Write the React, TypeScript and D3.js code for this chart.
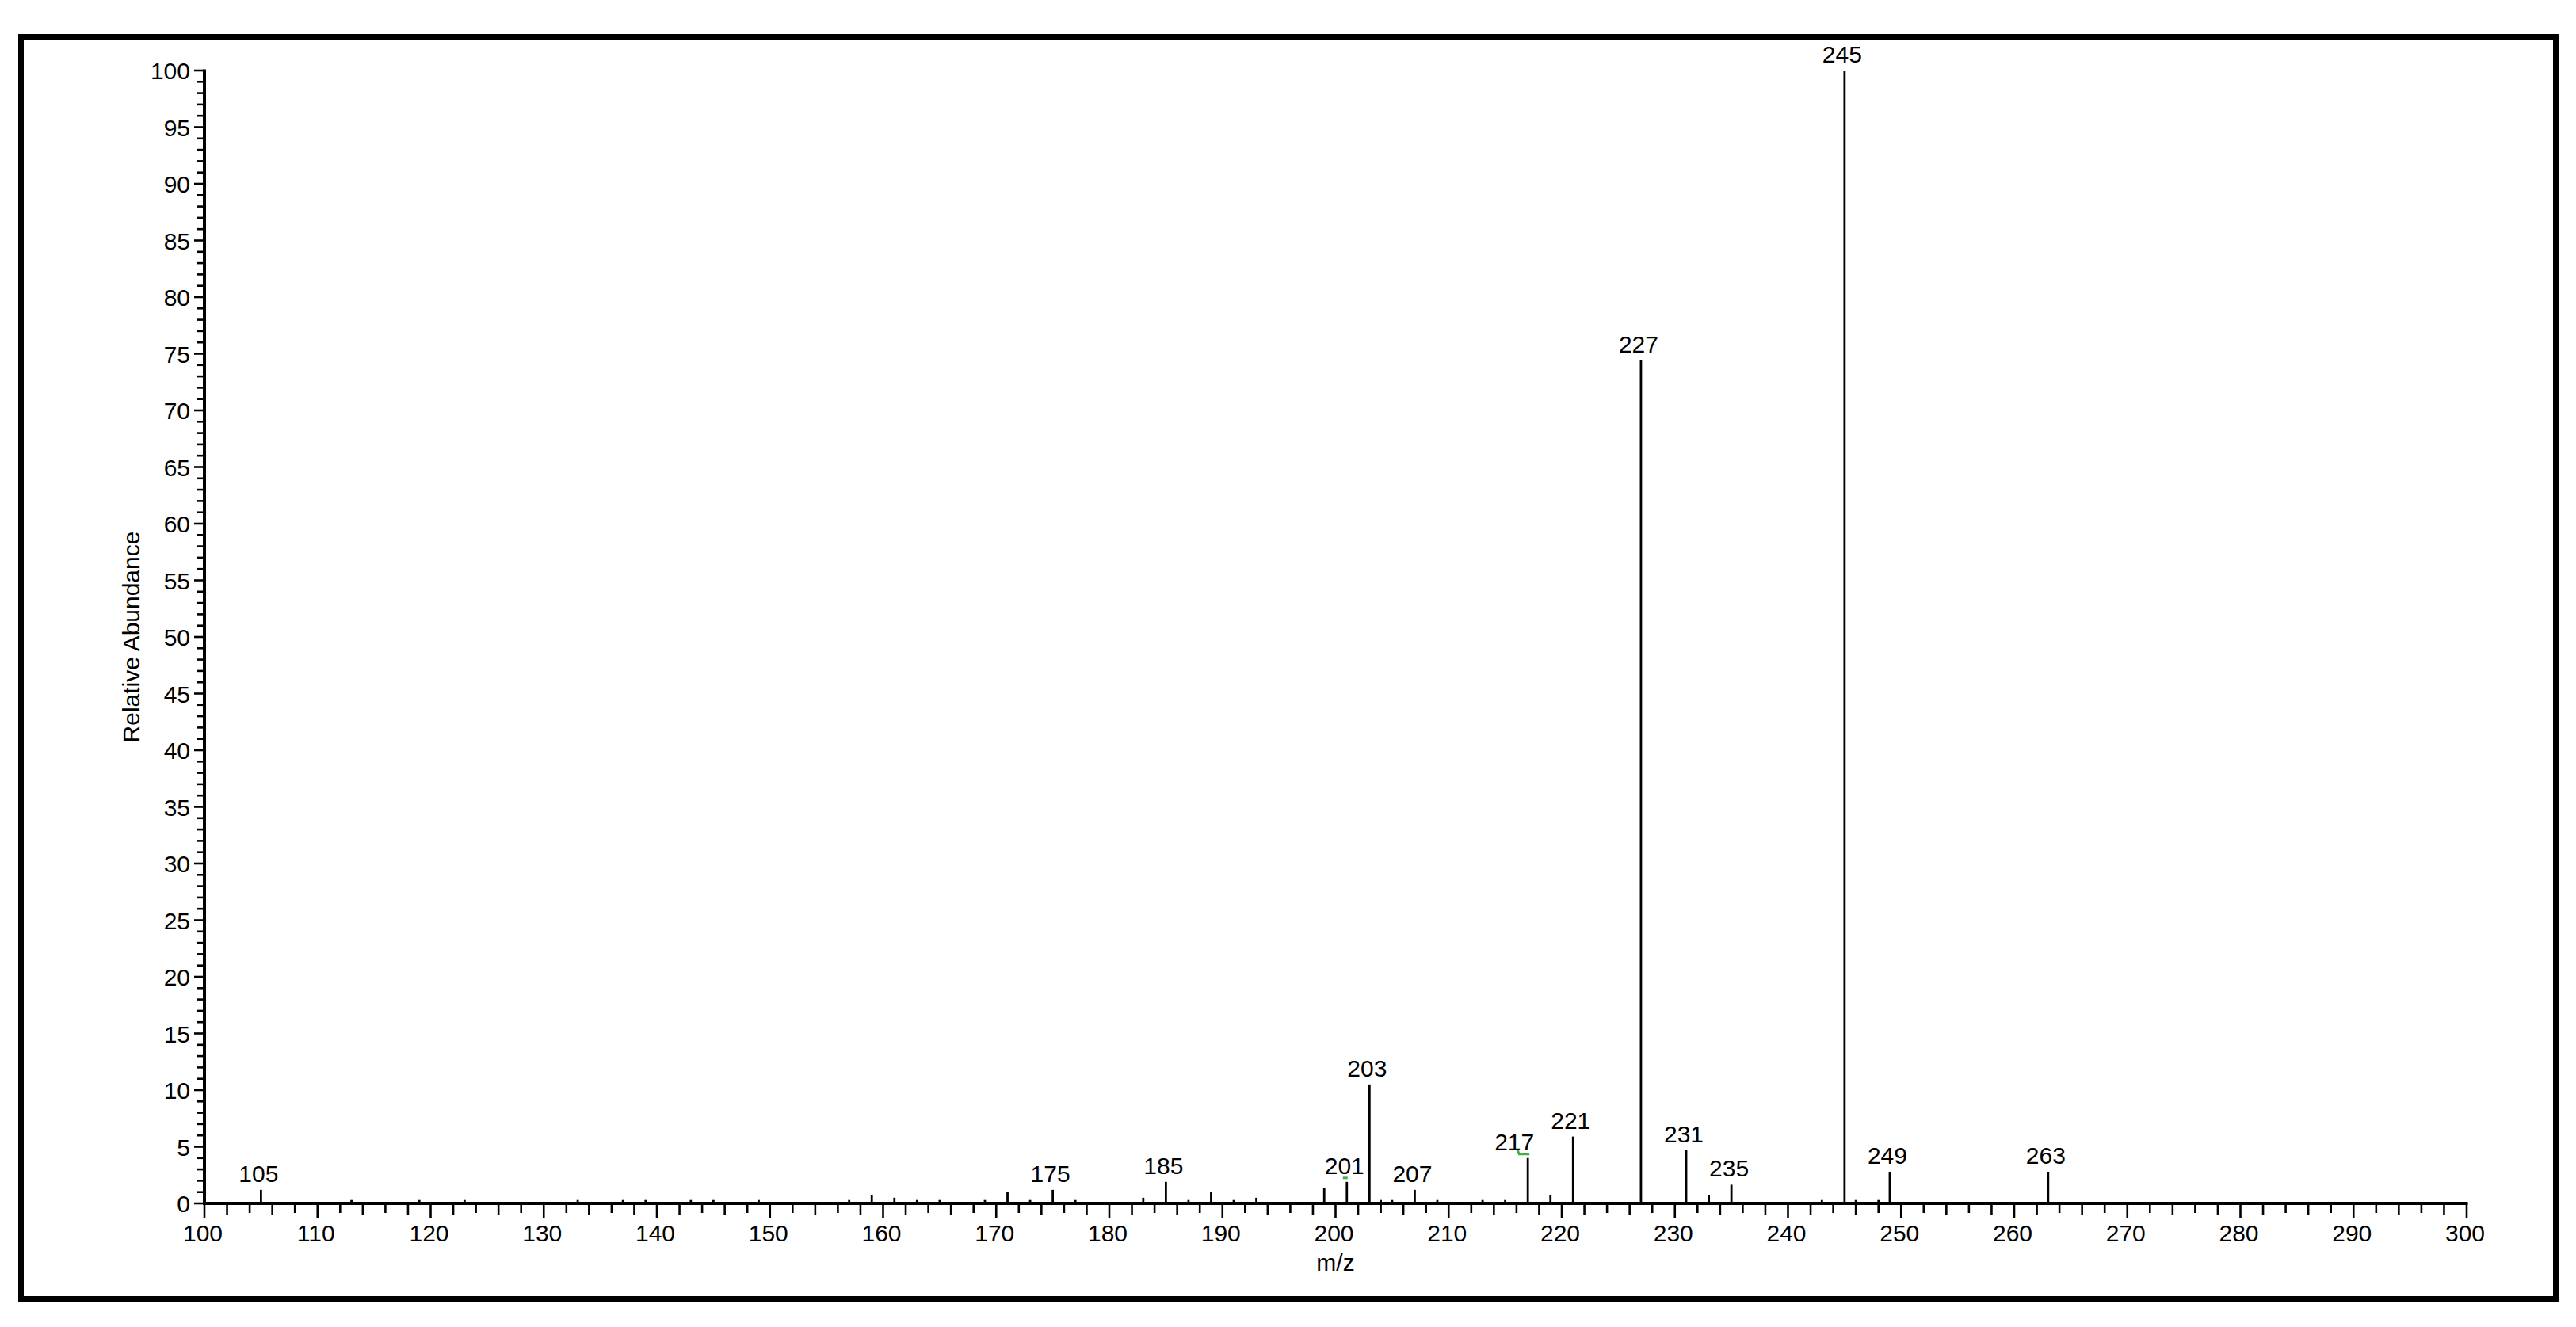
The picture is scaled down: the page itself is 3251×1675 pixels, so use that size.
import React from "react";
import * as d3 from "d3";

const mzValues = [105, 113, 119, 123, 133, 137, 139, 143, 145, 149, 157, 159, 161, 163, 165, 169, 171, 173, 175, 177, 183, 185, 187, 189, 191, 193, 199, 201, 203, 204, 205, 207, 209, 213, 215, 217, 219, 221, 227, 231, 233, 235, 243, 245, 246, 248, 249, 263];
const abundances = [1.2, 0.3, 0.3, 0.3, 0.3, 0.3, 0.3, 0.3, 0.3, 0.3, 0.3, 0.7, 0.5, 0.3, 0.3, 0.3, 1.0, 0.3, 1.2, 0.3, 0.5, 1.9, 0.3, 1.0, 0.3, 0.5, 1.4, 1.9, 10.5, 0.3, 0.3, 1.2, 0.3, 0.3, 0.3, 4.0, 0.7, 5.9, 74.4, 4.7, 0.7, 1.65, 0.3, 100, 0.3, 0.3, 2.8, 2.8];
const labeledPeaks = [105, 175, 185, 201, 203, 207, 217, 221, 227, 231, 235, 245, 249, 263];
const xTickLabels = ["100", "110", "120", "130", "140", "150", "160", "170", "180", "190", "200", "210", "220", "230", "240", "250", "260", "270", "280", "290", "300"];
const yTickLabels = ["0", "5", "10", "15", "20", "25", "30", "35", "40", "45", "50", "55", "60", "65", "70", "75", "80", "85", "90", "95", "100"];
const markedPeaks = [201, 217];

const W = 3251;
const H = 1675;
const FONT = "'Liberation Sans', Arial, Helvetica, sans-serif";

export default function App() {
  const x = d3.scaleLinear().domain([100, 300]).range([258, 3113]);
  const y = d3.scaleLinear().domain([0, 100]).range([1519, 89]);
  const x0 = x(100);
  const y0 = y(0);

  const xMinor = d3.range(100, 301, 2);
  const yMinor = d3.range(0, 101, 1);

  const peaks = mzValues.map((m, i) => ({ mz: m, ab: abundances[i] }));
  const labelDx: Record<number, number> = { 217: -14 };

  return (
    <div style={{ position: "absolute", left: 0, top: 0, background: "#fff" }}>
      <svg width={W} height={H} viewBox={`0 0 ${W} ${H}`} style={{ display: "block", background: "#fff" }}>
        <rect x={0} y={0} width={W} height={H} fill="#fff" />
        <rect x={26.5} y={46.5} width={3199} height={1593} fill="none" stroke="#000" strokeWidth={7} />

        {/* peaks */}
        <g stroke="#000" strokeWidth={2.8}>
          {peaks.map((p) => (
            <line key={p.mz} x1={x(p.mz)} x2={x(p.mz)} y1={y0} y2={y(p.ab)} />
          ))}
        </g>

        {/* peak labels */}
        <g fontFamily={FONT} fontSize={30} fill="#000" textAnchor="middle">
          {peaks
            .filter((p) => labeledPeaks.includes(p.mz))
            .map((p) => (
              <text key={p.mz} x={x(p.mz) - 3 + (labelDx[p.mz] || 0)} y={y(p.ab) - 10}>
                {String(p.mz)}
              </text>
            ))}
        </g>

        {/* green markers */}
        <g stroke="#3cb043" strokeWidth={3} fill="none">
          {markedPeaks.map((m) => {
            const p = peaks.find((q) => q.mz === m)!;
            const top = y(p.ab);
            if (m === 217) {
              return (
                <polyline key={m} points={`${x(m) - 13},${top - 10} ${x(m) - 11},${top - 5} ${x(m) + 2},${top - 5}`} />
              );
            }
            return <line key={m} x1={x(m) - 5} x2={x(m) + 1} y1={top - 5} y2={top - 5} />;
          })}
        </g>

        {/* x axis */}
        <g stroke="#000">
          <line x1={x0 - 2} x2={x(300) + 1.5} y1={y0} y2={y0} strokeWidth={4} />
          {xMinor.map((v, i) => {
            const major = v % 10 === 0;
            const len = major ? 19 : i % 2 === 1 ? 15 : 12;
            return <line key={v} x1={x(v)} x2={x(v)} y1={y0} y2={y0 + len} strokeWidth={2.6} />;
          })}
        </g>
        <g fontFamily={FONT} fontSize={30} fill="#000" textAnchor="middle">
          {xTickLabels.map((t) => (
            <text key={t} x={x(+t) - 2} y={1567}>
              {t}
            </text>
          ))}
          <text x={x(200)} y={1604}>m/z</text>
        </g>

        {/* y axis */}
        <g stroke="#000">
          <line x1={x0} x2={x0} y1={y(100) - 1.5} y2={y0 + 2} strokeWidth={4} />
          {yMinor.map((v) => {
            const major = v % 5 === 0;
            const len = major ? 13 : 10;
            return <line key={v} x1={x0 - len} x2={x0} y1={y(v)} y2={y(v)} strokeWidth={2.6} />;
          })}
        </g>
        <g fontFamily={FONT} fontSize={30} fill="#000" textAnchor="end">
          {yTickLabels.map((t) => (
            <text key={t} x={240} y={y(+t) + 11}>
              {t}
            </text>
          ))}
        </g>
        <text
          fontFamily={FONT}
          fontSize={30}
          fill="#000"
          textAnchor="middle"
          transform={`translate(176, ${(y(0) + y(100)) / 2}) rotate(-90)`}
        >
          Relative Abundance
        </text>
      </svg>
    </div>
  );
}
